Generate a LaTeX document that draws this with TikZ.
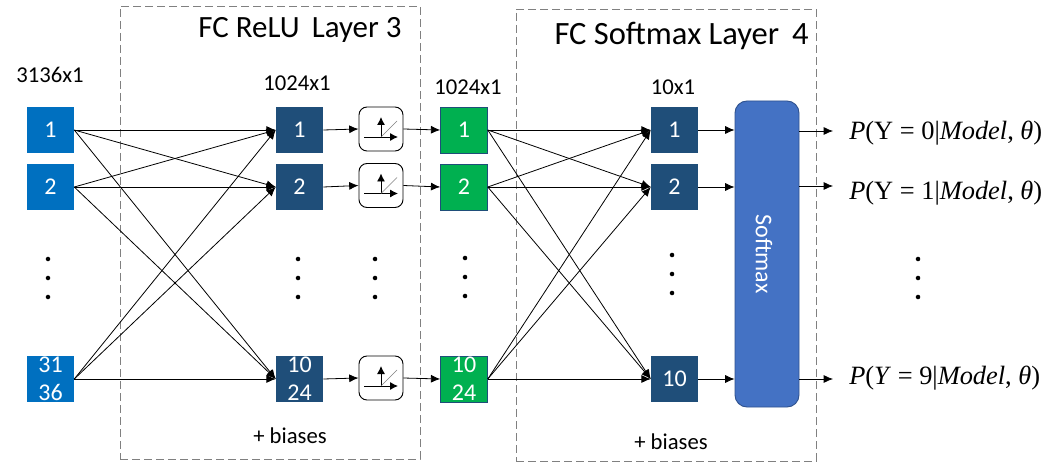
\documentclass[tikz,border=0pt]{standalone}
\usepackage{fontspec}
\setmainfont{Carlito}
\newfontfamily\mathf{Liberation Serif}
\usetikzlibrary{arrows.meta}
\definecolor{inblue}{HTML}{0070C0}
\definecolor{dkblue}{HTML}{1F4E79}
\definecolor{grn}{HTML}{00B050}
\definecolor{softb}{HTML}{4472C4}
\definecolor{softd}{HTML}{2F528F}
\tikzset{
 x=0.75pt,y=-0.75pt,
 cell/.style={minimum width=35.25pt,minimum height=34.5pt,inner sep=0pt,text=white,font=\fontsize{18}{21}\selectfont,align=center},
 incell/.style={cell,fill=inblue},
 dkcell/.style={cell,fill=dkblue},
 gncell/.style={cell,fill=grn,draw=dkblue,line width=0.4pt},
 relu/.style={draw=black,fill=white,rounded corners=6pt,line width=0.7pt,minimum width=33pt,minimum height=33pt,inner sep=0pt},
 link/.style={draw=black,line width=0.6pt,-{Latex[length=7pt,width=6pt]}},
 frame/.style={draw=gray,dashed,line width=0.7pt,dash pattern=on 6pt off 3pt},
 lbl/.style={font=\fontsize{17}{20}\selectfont,inner sep=0pt},
 title/.style={font=\fontsize{23.2}{28}\selectfont,inner sep=0pt},
 titleb/.style={font=\fontsize{24.4}{28}\selectfont,inner sep=0pt},
 prob/.style={font=\mathf\fontsize{19.8}{24}\selectfont,inner sep=0pt,anchor=west},
 dotn/.style={circle,fill=black,minimum size=3.4pt,inner sep=0pt},
}
\newcommand{\reluicon}[1]{%
 \draw[-{Latex[length=6pt,width=6pt]},line width=0.7pt] ([shift={(-17,8)}]#1.center) -- ([shift={(17,8)}]#1.center);
 \draw[-{Latex[length=6pt,width=6pt]},line width=0.7pt] ([shift={(0,8)}]#1.center) -- ([shift={(0,-12)}]#1.center);
 \draw[gray,line width=0.5pt] ([shift={(0,8)}]#1.center) -- ([shift={(16,-8)}]#1.center);
}
\begin{document}
\begin{tikzpicture}
\useasboundingbox (0,0) rectangle (1056,470);
\fill[white] (0,0) rectangle (1056,470);
\node[frame,minimum width=225pt,minimum height=339.75pt,inner sep=0pt] (f3) at (270,232.5) {};
\node[frame,minimum width=225pt,minimum height=339pt,inner sep=0pt] (f4) at (666,235) {};
\node[title] (t3) at (300,30) {FC ReLU\, Layer 3};
\node[titleb] (t4) at (681.5,36) {FC Softmax Layer\, 4};
\node[lbl] (s1) at (50,75) {3136x1};
\node[lbl] (s2) at (297,83) {1024x1};
\node[lbl] (s3) at (468,87) {1024x1};
\node[lbl] (s4) at (673,87) {10x1};
\node[lbl] (b1) at (290,436) {+ biases};
\node[lbl] (b2) at (671,442) {+ biases};
% input
\node[incell] (a1) at (50.5,130) {1};
\node[incell] (a2) at (50.5,187) {2};
\node[incell] (a3) at (50.5,379) {31\\36};
\node[dkcell] (b1n) at (299.5,130) {1};
\node[dkcell] (b2n) at (299.5,187) {2};
\node[dkcell] (b3n) at (299.5,379) {10\\24};
\node[gncell] (c1) at (464,130) {1};
\node[gncell] (c2) at (464,187) {2};
\node[gncell] (c3) at (464,379) {10\\24};
\node[dkcell] (d1) at (674.5,130) {1};
\node[dkcell] (d2) at (674.5,187) {2};
\node[dkcell] (d3) at (674.5,379) {10};
\node[relu] (r1) at (381,129) {};
\node[relu] (r2) at (381,185.5) {};
\node[relu] (r3) at (381,378) {};
\reluicon{r1}\reluicon{r2}\reluicon{r3}
\node[fill=softb,draw=softd,line width=0.7pt,rounded corners=9pt,minimum width=48pt,minimum height=229.5pt,inner sep=0pt] (sm) at (767,254) {};
\node[rotate=-90,text=white,font=\fontsize{18}{20}\selectfont,inner sep=0pt] (smt) at (764,254) {Softmax};
% links
\foreach \s in {a1,a2,a3}\foreach \t in {b1n,b2n,b3n}{\draw[link] (\s.east) -- (\t.west);}
\foreach \s in {c1,c2,c3}\foreach \t in {d1,d2,d3}{\draw[link] (\s.east) -- (\t.west);}
\foreach \i in {1,2,3}{
 \draw[link] (b\i n.east) -- (r\i.west);
 \draw[link] (r\i.east) -- (c\i.west);
 \draw[link] (d\i.east) -- (d\i.east -| sm.west);
}
\node[prob] (p1) at (849,133) {\textit{P}(Y = 0|\textit{Model}, \textit{θ})};
\node[prob] (p2) at (849,193) {\textit{P}(Y = 1|\textit{Model}, \textit{θ})};
\node[prob] (p3) at (849,378) {\textit{P}(\textit{Y} = 9|\textit{Model}, \textit{θ})};
\coordinate (e1) at (833,131);\coordinate (e2) at (833,186);\coordinate (e3) at (833,379);
\foreach \i in {1,2,3}{\draw[link] (sm.east |- e\i) -- (e\i);}
% dots
\foreach \x/\y/\n in {48/259/A,298/259/B,375/259/C,465/258/D,672/255/E,918/259/F}{
 \node[dotn] (\n1) at (\x,\y) {};\node[dotn] (\n2) at (\x,\y+19) {};\node[dotn] (\n3) at (\x,\y+38) {};}
\end{tikzpicture}
\end{document}
